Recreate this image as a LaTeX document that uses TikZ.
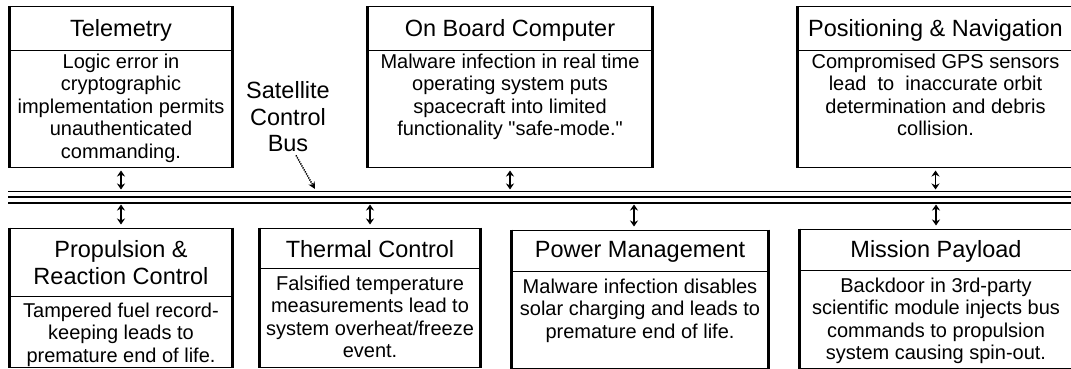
\documentclass[tikz,border=0pt]{standalone}
\usepackage{fontspec}
\setmainfont{Liberation Sans}[Ligatures=TeXOff]
\usetikzlibrary{arrows.meta}
\tikzset{
  unit/.style={draw, line width=1pt, inner sep=0pt},
  ttl/.style={font=\fontsize{23.5}{27}\selectfont, align=center, inner sep=0pt},
  txt/.style={font=\fontsize{20}{22.5}\selectfont, align=center, inner sep=0pt, anchor=north},
  link/.style={{Stealth[length=6pt,width=8pt]}-{Stealth[length=6pt,width=8pt]}, line width=1.5pt},
  pointer/.style={dash pattern=on 1.3pt off 1pt, line width=1.5pt, -{Stealth[length=7pt,width=7pt]}},
}
\begin{document}
\begin{tikzpicture}[x=1pt,y=-1pt]
    \useasboundingbox (0,0) rectangle (1071,369);

    % subsystems above the bus
    \node[unit, minimum width=222pt, minimum height=160pt] (tel) at (121,87) {};
    \node[unit, minimum width=284pt, minimum height=160pt] (obc) at (510,87) {};
    \node[unit, minimum width=275pt, minimum height=160pt] (pos) at (935.5,87) {};

    % subsystems below the bus
    \node[unit, minimum width=222pt, minimum height=139pt] (prop) at (121,297.5) {};
    \node[unit, minimum width=220pt, minimum height=139pt] (thm) at (370,297.5) {};
    \node[unit, minimum width=256pt, minimum height=138pt] (pwr) at (640,299) {};
    \node[unit, minimum width=272pt, minimum height=139pt] (mis) at (936,298.5) {};

    \foreach \n in {tel,obc,pos,prop,thm,pwr,mis}
    \draw[line width=3pt] (\n.north west) -- (\n.south west) (\n.north east) -- (\n.south east);
    \foreach \n/\d in {tel/44,obc/44,pos/44,prop/69,thm/41,pwr/42,mis/42}
    \draw[line width=1pt] ([yshift=-\d pt]\n.north west) -- ([yshift=-\d pt]\n.north east);

    \node[ttl] (tel-t) at ([yshift=-23.5pt]tel.north) {Telemetry};
    \node[ttl] (obc-t) at ([yshift=-23.5pt]obc.north) {On Board Computer};
    \node[ttl] (pos-t) at ([yshift=-23.5pt]pos.north) {Positioning \& Navigation};
    \node[ttl] (prop-t) at ([yshift=-35.5pt]prop.north) {Propulsion \&\\Reaction Control};
    \node[ttl] (thm-t) at ([yshift=-22pt]thm.north) {Thermal Control};
    \node[ttl] (pwr-t) at ([yshift=-22.5pt]pwr.north) {Power Management};
    \node[ttl] (mis-t) at ([yshift=-22.5pt]mis.north) {Mission Payload};

    \node[txt] (tel-b) at ([yshift=-47pt]tel.north) {Logic error in\\cryptographic\\implementation permits\\unauthenticated\\commanding.};
    \node[txt] (obc-b) at ([yshift=-47pt]obc.north) {Malware infection in real time\\operating system puts\\spacecraft into limited\\functionality "safe-mode."};
    \node[txt] (pos-b) at ([yshift=-47pt]pos.north) {Compromised GPS sensors\\lead\ \ to\ \ inaccurate orbit\\determination and debris\\collision.};
    \node[txt] (prop-b) at ([yshift=-75pt]prop.north) {Tampered fuel record-\\keeping leads to\\premature end of life.};
    \node[txt] (thm-b) at ([yshift=-48pt]thm.north) {Falsified temperature\\measurements lead to\\system overheat/freeze\\event.};
    \node[txt] (pwr-b) at ([yshift=-49pt]pwr.north) {Malware infection disables\\solar charging and leads to\\premature end of life.};
    \node[txt] (mis-b) at ([yshift=-49pt]mis.north) {Backdoor in 3rd-party\\scientific module injects bus\\commands to propulsion\\system causing spin-out.};

    % the bus
    \coordinate (busN) at (8,191.5);
    \coordinate (busS) at (8,202.5);
    \draw[line width=0.9pt] (busN) -- (1075,191.5);
    \draw[line width=1.3pt] (8,197) -- (1075,197);
    \draw[line width=2pt] (busS) -- (1075,202.5);

    \foreach \n in {tel,obc,pos}
    \draw[link] ([yshift=-3pt]\n.south) -- ([yshift=2pt]\n.south |- busN);
    \foreach \n/\s in {prop/0,thm/0,pwr/-6,mis/0}
    \draw[link] ([xshift=\s pt,yshift=-2pt]\n.north |- busS) -- ([xshift=\s pt,yshift=3pt]\n.north);

    \node[font=\fontsize{23.5}{26.5}\selectfont, align=center, inner sep=0pt] (lbl) at (288,117) {Satellite\\Control\\Bus};
    \coordinate (lbl-tip) at (315,189);
    \draw[pointer] ([xshift=8pt,yshift=-3pt]lbl.south) -- (lbl-tip);
\end{tikzpicture}
\end{document}
